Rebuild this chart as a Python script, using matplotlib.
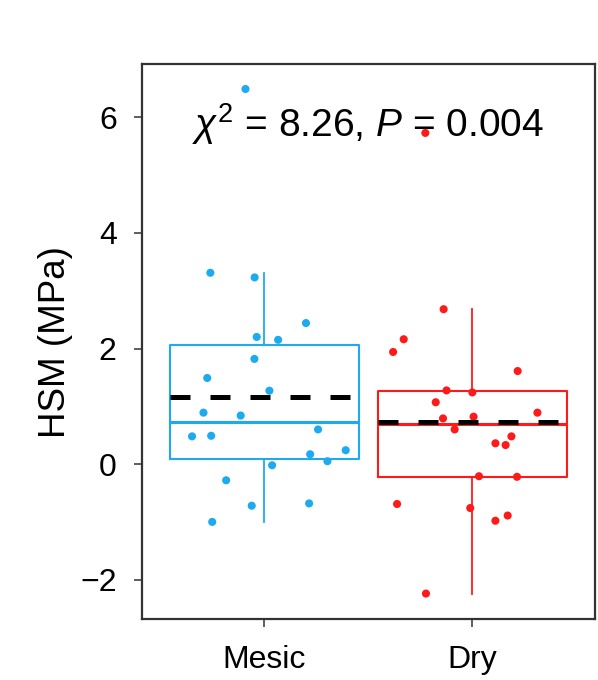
import matplotlib
matplotlib.use("Agg")
import matplotlib.pyplot as plt
import numpy as np

# values (HSM, MPa)
groups = ["Mesic", "Dry"]
mesic_hsm = [6.49, 3.31, 3.23, 2.44, 2.20, 2.15, 1.82, 1.49, 1.27, 0.89, 0.84,
             0.60, 0.49, 0.48, 0.24, 0.17, 0.05, -0.02, -0.28, -0.72, -0.68, -1.00]
dry_hsm = [5.73, 2.68, 2.16, 1.94, 1.61, 1.275, 1.24, 1.07, 0.89, 0.79, 0.82,
           0.60, 0.48, 0.36, 0.33, -0.21, -0.22, -0.69, -0.76, -0.89, -0.98, -2.24]
# horizontal jitter of each point (fraction of group spacing)
mesic_jitter = [-0.091, -0.26, -0.047, 0.20, -0.037, 0.066, -0.048, -0.275, 0.024,
                -0.293, -0.114, 0.258, -0.256, -0.348, 0.391, 0.22, 0.303, 0.037,
                -0.184, -0.061, 0.215, -0.251]
dry_jitter = [-0.226, -0.138, -0.33, -0.381, 0.218, -0.124, 0.0, -0.176, 0.313,
              -0.141, 0.006, -0.085, 0.188, 0.111, 0.16, 0.032, 0.215, -0.362,
              -0.01, 0.17, 0.111, -0.223]
stat_text = r"$\chi^2$ = 8.26, $P$ = 0.004"

colors = ["#1EAAEE", "#FF1A1A"]

plt.rcParams['font.family'] = ['Liberation Sans', 'DejaVu Sans']
plt.rcParams['mathtext.fontset'] = 'custom'
plt.rcParams['mathtext.rm'] = 'Liberation Sans'
plt.rcParams['mathtext.it'] = 'Liberation Sans:italic'
plt.rcParams['lines.scale_dashes'] = False

fig = plt.figure(figsize=(5.98, 6.80), dpi=100)
ax = fig.add_axes([0.237, 0.0897, 0.758, 0.816])

data = [mesic_hsm, dry_hsm]
jitter = [mesic_jitter, dry_jitter]
positions = [1, 2]
width = 0.91

for i in range(2):
    c = colors[i]
    ax.boxplot(data[i], positions=[positions[i]], widths=width, showfliers=False,
               showcaps=False, whis=1.5,
               boxprops=dict(color=c, linewidth=1.5),
               whiskerprops=dict(color=c, linewidth=1.3),
               medianprops=dict(color=c, linewidth=2.2),
               zorder=2)
    xs = positions[i] + np.array(jitter[i])
    ax.scatter(xs, data[i], s=34, color=c, edgecolor='none', zorder=3)
    m = np.mean(data[i])
    ax.plot([positions[i] - width / 2, positions[i] + width / 2], [m, m],
            color='black', linewidth=3.6, linestyle=(0, (14.4, 14.4)),
            solid_capstyle='butt', dash_capstyle='butt', zorder=4)

ax.text(1.5, 5.89, stat_text, ha='center', va='center', fontsize=28)

ax.set_xlim(0.41, 2.59)
ax.set_ylim(-2.68, 6.92)
ax.set_xticks(positions)
ax.set_xticklabels(groups)
ax.set_yticks([-2, 0, 2, 4, 6])
ax.set_yticklabels(["\u22122", "0", "2", "4", "6"])
ax.tick_params(axis='both', labelsize=23, length=6, width=1.1, color='#333333')
ax.tick_params(axis='y', pad=12)
ax.tick_params(axis='x', pad=13)
ax.set_ylabel("HSM (MPa)", fontsize=26.5, labelpad=5)
for s in ax.spines.values():
    s.set_linewidth(1.6)
    s.set_color('#333333')

fig.savefig("out.png", dpi=100)
